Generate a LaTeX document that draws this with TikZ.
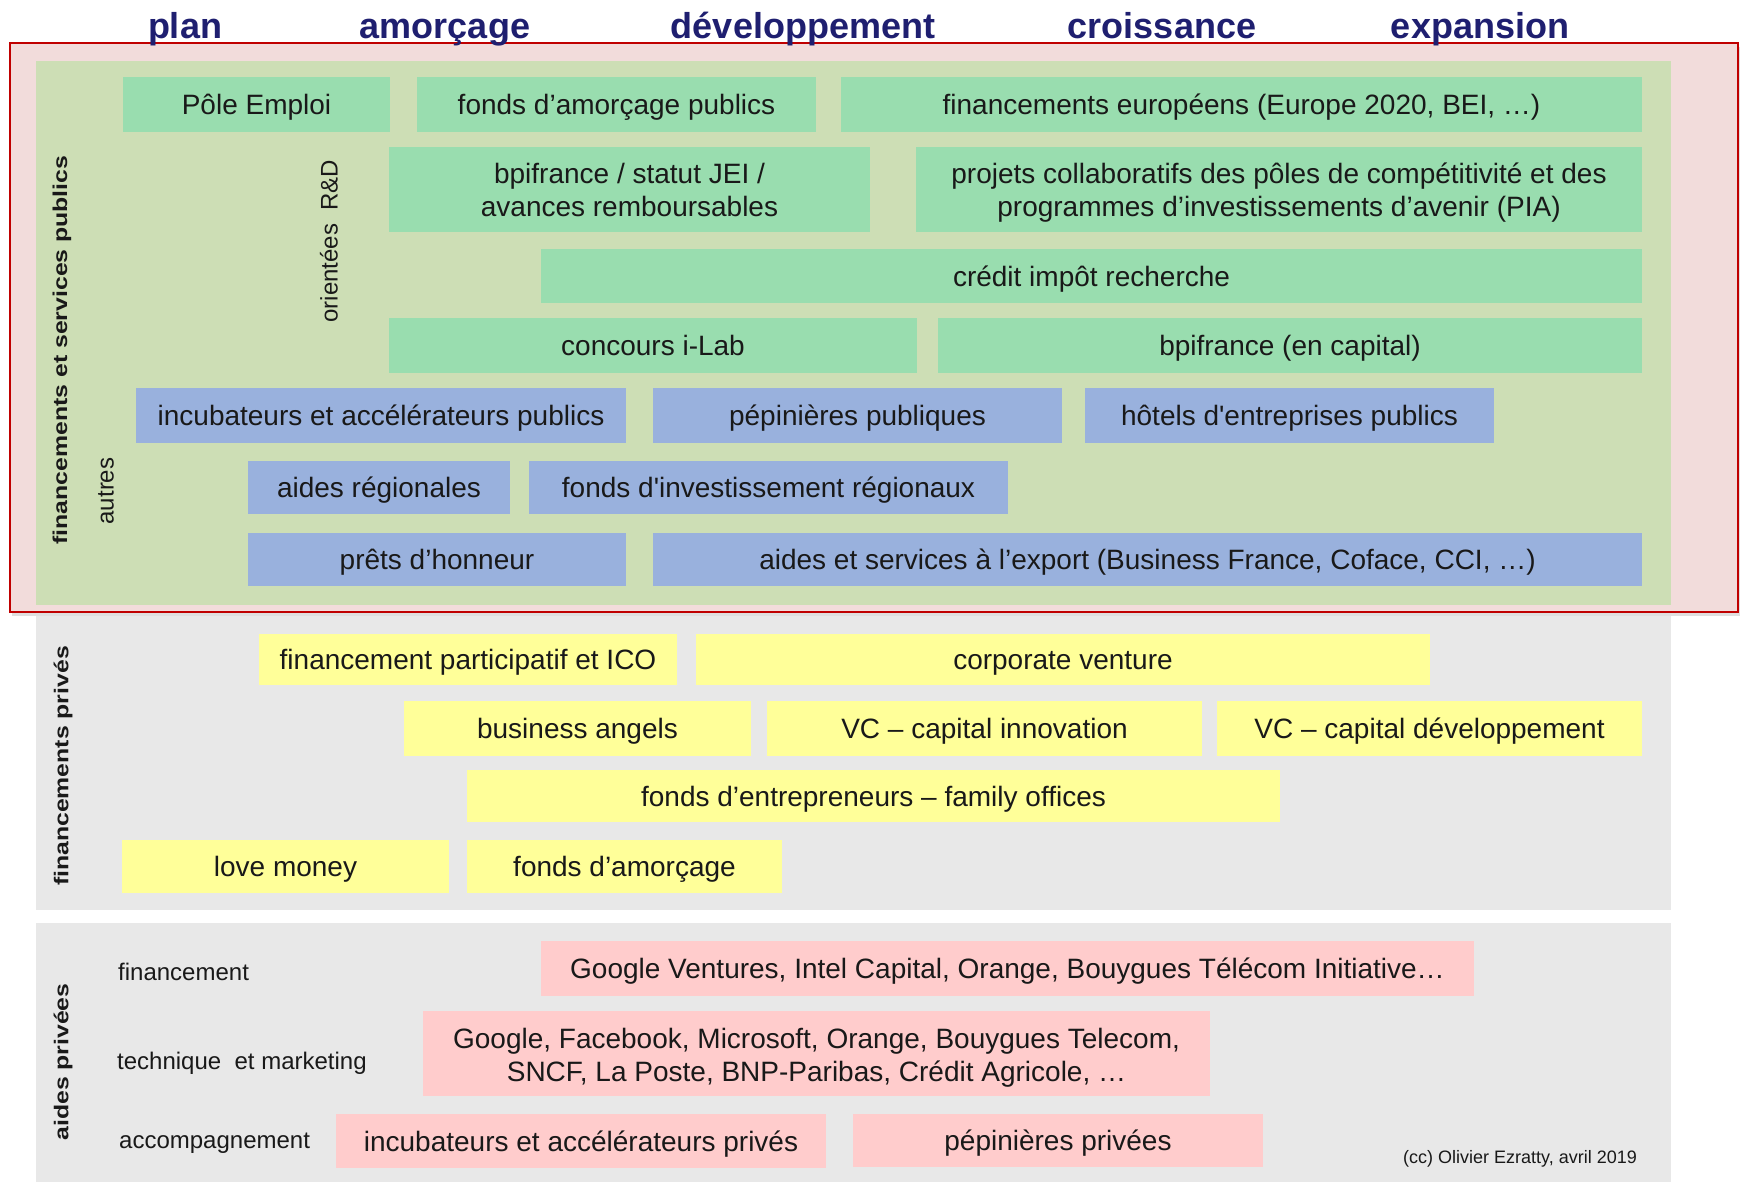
\documentclass[tikz,border=0pt]{standalone}
\usepackage{fontspec}
\setmainfont{Liberation Sans}[Ligatures=TeXOff]
\newfontfamily\sidefont[FakeStretch=1.24]{Liberation Sans}
\usetikzlibrary{shadows}

\definecolor{redline}{RGB}{192,0,0}
\definecolor{pinkbg}{RGB}{242,220,219}
\definecolor{olivebg}{RGB}{205,222,181}
\definecolor{greybg}{RGB}{232,232,232}
\definecolor{mint}{RGB}{153,221,175}
\definecolor{periwinkle}{RGB}{153,177,221}
\definecolor{lemon}{RGB}{255,255,153}
\definecolor{rosebox}{RGB}{255,204,204}
\definecolor{navy}{RGB}{31,31,112}

\tikzset{
  box/.style={anchor=north west, inner sep=0pt, outer sep=0pt, align=center, text=black!90,
    font=\fontsize{28}{33}\selectfont},
  oneline/.style={box, text height=20pt, text depth=0pt},
  mintbox/.style={oneline, fill=mint},
  bluebox/.style={oneline, fill=periwinkle},
  yellowbox/.style={oneline, fill=lemon},
  pinkbox/.style={oneline, fill=rosebox},
  panel/.style={anchor=north west, inner sep=0pt, outer sep=0pt},
  header/.style={anchor=base, text=navy, font=\fontsize{36}{40}\selectfont\bfseries},
  sidelabel/.style={rotate=90, inner sep=0pt, text=black!90, font=\sidefont\fontsize{20}{24}\selectfont\bfseries},
  sublabel/.style={rotate=90, inner sep=0pt, text=black!90, font=\fontsize{24}{28}\selectfont},
  rowlabel/.style={anchor=west, inner sep=0pt, text=black!90, font=\fontsize{24}{28}\selectfont}
}

\begin{document}
\begin{tikzpicture}[x=1pt, y=-1pt]
  \useasboundingbox (0,0) rectangle (1744,1182);

  % Panels
  \node (public) [panel, draw=redline, line width=2pt, fill=pinkbg, minimum width=1728pt, minimum height=569pt,
    drop shadow={opacity=0.25, shadow xshift=2pt, shadow yshift=-4pt}] at (10,43) {};
  \node (publicin) [panel, fill=olivebg, minimum width=1635pt, minimum height=544pt] at (36,61) {};
  \node (private) [panel, fill=greybg, minimum width=1635pt, minimum height=294pt] at (36,616) {};
  \node (aid) [panel, fill=greybg, minimum width=1635pt, minimum height=259pt] at (36,923) {};

  % financements et services publics
  \node (pole) [mintbox, minimum width=267pt, minimum height=55pt] at (123,77) {Pôle Emploi};
  \node (seedpub) [mintbox, minimum width=399pt, minimum height=55pt] at (417,77) {fonds d’amorçage publics};
  \node (europe) [mintbox, minimum width=801pt, minimum height=55pt] at (841,77) {financements européens (Europe 2020, BEI, …)};
  \node (jei) [box, fill=mint, minimum width=481pt, minimum height=85pt] at (389,147) {bpifrance / statut JEI /\\avances remboursables};
  \node (pia) [box, fill=mint, minimum width=726pt, minimum height=85pt] at (916,147)
    {\rule{0pt}{27pt}projets collaboratifs des pôles de compétitivité et des\\programmes d’investissements d’avenir (PIA)};
  \node (cir) [mintbox, minimum width=1101pt, minimum height=54pt] at (541,249) {crédit impôt recherche};
  \node (ilab) [mintbox, minimum width=528pt, minimum height=55pt] at (389,318) {concours i-Lab};
  \node (bpicap) [mintbox, minimum width=704pt, minimum height=55pt] at (938,318) {bpifrance (en capital)};

  \node (incpub) [bluebox, minimum width=490pt, minimum height=55pt] at (136,388) {incubateurs et accélérateurs publics};
  \node (peppub) [bluebox, minimum width=409pt, minimum height=55pt] at (653,388) {pépinières publiques};
  \node (hotels) [bluebox, minimum width=409pt, minimum height=55pt] at (1085,388) {hôtels d'entreprises publics};
  \node (region) [bluebox, minimum width=262pt, minimum height=53pt] at (248,461) {aides régionales};
  \node (fir) [bluebox, minimum width=479pt, minimum height=53pt] at (529,461) {fonds d'investissement régionaux};
  \node (honour) [bluebox, minimum width=378pt, minimum height=53pt] at (248,533) {prêts d’honneur};
  \node (export) [bluebox, minimum width=989pt, minimum height=53pt] at (653,533)
    {aides et services à l’export (Business France, Coface, CCI, …)};

  % financements privés
  \node (crowd) [yellowbox, minimum width=418pt, minimum height=51pt] at (259,634) {financement participatif et ICO};
  \node (corpo) [yellowbox, minimum width=734pt, minimum height=51pt] at (696,634) {corporate venture};
  \node (angels) [yellowbox, minimum width=347pt, minimum height=55pt] at (404,701) {business angels};
  \node (vcinno) [yellowbox, minimum width=435pt, minimum height=55pt] at (767,701) {VC – capital innovation};
  \node (vcdev) [yellowbox, minimum width=425pt, minimum height=55pt] at (1217,701) {VC – capital développement};
  \node (family) [yellowbox, minimum width=813pt, minimum height=52pt] at (467,770) {fonds d’entrepreneurs – family offices};
  \node (love) [yellowbox, minimum width=327pt, minimum height=53pt] at (122,840) {love money};
  \node (seed) [yellowbox, minimum width=315pt, minimum height=53pt] at (467,840) {fonds d’amorçage};

  % aides privées
  \node (ventures) [pinkbox, minimum width=933pt, minimum height=55pt] at (541,941)
    {Google Ventures, Intel Capital, Orange, Bouygues Télécom Initiative…};
  \node (corps) [box, fill=rosebox, minimum width=787pt, minimum height=85pt] at (423,1011)
    {\rule{0pt}{29pt}Google, Facebook, Microsoft, Orange, Bouygues Telecom,\\SNCF, La Poste, BNP-Paribas, Crédit Agricole, …};
  \node (incpriv) [pinkbox, minimum width=490pt, minimum height=54pt] at (336,1114) {incubateurs et accélérateurs privés};
  \node (peppriv) [pinkbox, minimum width=410pt, minimum height=53pt] at (853,1114) {pépinières privées};

  % Labels
  \node (publab) [sidelabel] at (62,350) {financements et services publics};
  \node (privlab) [sidelabel] at (63,766) {financements privés};
  \node (aidlab) [sidelabel] at (63,1062) {aides privées};
  \node (rdlab) [sublabel] at (329,241) {orientées\ \ R\&D};
  \node (otherlab) [sublabel] at (106,491) {autres};
  \node (finlab) [rowlabel] at (118,972) {financement};
  \node (techlab) [rowlabel] at (117,1063) {technique\ \ et marketing};
  \node (acclab) [rowlabel] at (119,1143) {accompagnement};
  \node (credit) [anchor=east, inner sep=0pt, text=black!90, font=\fontsize{18}{20}\selectfont] at (1637,1159)
    {(cc) Olivier Ezratty, avril 2019};

  % Headers
  \node (plan) [header] at (185,39) {plan};
  \node (seedhd) [header] at (445,39) {amorçage};
  \node (devhd) [header] at (803,39) {développement};
  \node (growhd) [header] at (1162,39) {croissance};
  \node (exphd) [header] at (1480,39) {expansion};
\end{tikzpicture}
\end{document}
